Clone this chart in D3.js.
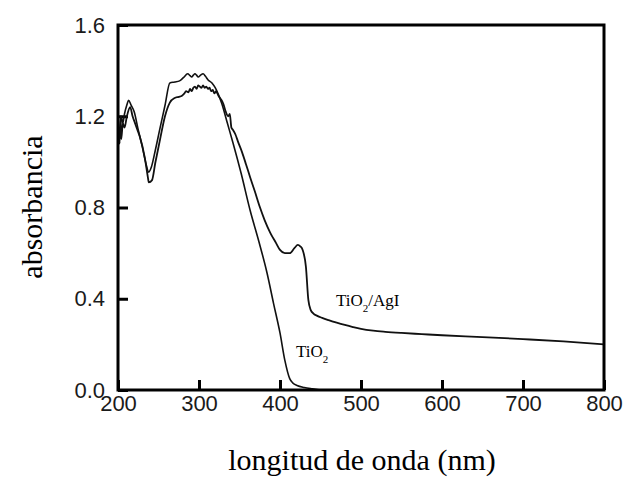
<!DOCTYPE html>
<html>
<head>
<meta charset="utf-8">
<script src="https://cdn.jsdelivr.net/npm/d3@7"></script>
<style>
  html, body { margin: 0; padding: 0; background: #fff; }
  svg { display: block; }
</style>
</head>
<body>
<svg id="chart" width="630" height="488"></svg>
<script>
// UV-Vis absorbance spectra: wavelength (nm) and absorbance for each sample
const tio2Wavelength = [200, 202, 204, 206, 208, 211, 213, 216, 220, 225, 230, 234, 238, 241, 246, 252, 258, 264, 270, 276, 281, 286, 289, 291, 293, 295, 297, 299, 302, 305, 308, 311, 316, 320, 324, 328, 335, 342, 352, 363, 374, 384, 392, 400, 406, 412, 416, 421, 430, 440, 450];
const tio2Absorbance = [1.18, 1.12, 1.20, 1.17, 1.21, 1.25, 1.27, 1.25, 1.22, 1.14, 1.066, 1.00, 0.955, 0.975, 1.05, 1.15, 1.247, 1.346, 1.35, 1.355, 1.37, 1.386, 1.378, 1.372, 1.38, 1.386, 1.38, 1.372, 1.38, 1.386, 1.375, 1.36, 1.346, 1.325, 1.295, 1.257, 1.17, 1.083, 0.95, 0.789, 0.65, 0.513, 0.38, 0.25, 0.13, 0.05, 0.03, 0.02, 0.011, 0.005, 0.0];

const agiWavelength = [200, 201, 202, 203, 204, 206, 208, 211, 215, 218, 221, 224, 227, 233, 237, 238, 242, 246, 252, 258, 264, 270, 275, 279, 282, 284, 287, 289, 291, 293, 295, 297, 299, 301, 303, 305, 307, 309, 311, 313, 315, 317, 319, 321, 324, 327, 330, 333, 336, 338, 340, 342, 345, 348, 353, 358, 363, 369, 375, 381, 388, 395, 400, 406, 412, 418, 422, 425, 428, 432, 435, 438, 441, 446, 452, 460, 470, 480, 490, 500, 515, 530, 550, 575, 600, 650, 700, 750, 800];
const agiAbsorbance = [1.05, 1.15, 1.08, 1.20, 1.10, 1.17, 1.15, 1.20, 1.24, 1.20, 1.17, 1.14, 1.11, 1.02, 0.93, 0.91, 0.92, 0.995, 1.10, 1.20, 1.26, 1.28, 1.285, 1.29, 1.30, 1.31, 1.305, 1.32, 1.31, 1.325, 1.33, 1.32, 1.335, 1.33, 1.325, 1.335, 1.325, 1.33, 1.32, 1.325, 1.31, 1.315, 1.30, 1.31, 1.29, 1.275, 1.255, 1.22, 1.20, 1.21, 1.15, 1.14, 1.12, 1.09, 1.044, 0.99, 0.934, 0.87, 0.803, 0.745, 0.689, 0.645, 0.614, 0.60, 0.60, 0.623, 0.636, 0.63, 0.614, 0.54, 0.395, 0.35, 0.336, 0.325, 0.316, 0.306, 0.295, 0.285, 0.276, 0.268, 0.26, 0.255, 0.25, 0.245, 0.24, 0.232, 0.223, 0.213, 0.20];

const xTicks = [200, 300, 400, 500, 600, 700, 800];
const yTicks = [0.0, 0.4, 0.8, 1.2, 1.6];

const svg = d3.select("#chart");
const plot = { left: 118, right: 604, top: 25, bottom: 390 };

const x = d3.scaleLinear().domain([200, 800]).range([plot.left, plot.right]);
const y = d3.scaleLinear().domain([0, 1.6]).range([plot.bottom, plot.top]);

const tickFont = "'Liberation Sans', Arial, Helvetica, sans-serif";
const serifFont = "'Liberation Serif', 'Times New Roman', Times, serif";

// Bottom axis: inward ticks, labels below
const xAxis = d3.axisBottom(x).tickValues(xTicks).tickSizeInner(-10).tickSizeOuter(0).tickPadding(5);
const gx = svg.append("g").attr("transform", `translate(0,${plot.bottom})`).call(xAxis);
gx.select(".domain").remove();
gx.selectAll(".tick line").attr("stroke", "#000").attr("stroke-width", 3);
gx.selectAll(".tick text")
  .attr("font-family", tickFont).attr("font-size", 22).attr("fill", "#1a1a1a");

// Left axis: inward ticks, labels to the left
const yAxis = d3.axisLeft(y).tickValues(yTicks).tickFormat(d3.format(".1f"))
  .tickSizeInner(-10).tickSizeOuter(0).tickPadding(13);
const gy = svg.append("g").attr("transform", `translate(${plot.left},0)`).call(yAxis);
gy.select(".domain").remove();
gy.selectAll(".tick line").attr("stroke", "#000").attr("stroke-width", 3);
gy.selectAll(".tick text")
  .attr("font-family", tickFont).attr("font-size", 22).attr("fill", "#1a1a1a");

// Spectra
const line = d3.line().x(d => x(d[0])).y(d => y(d[1])).curve(d3.curveMonotoneX);

svg.append("path")
  .datum(d3.zip(tio2Wavelength, tio2Absorbance))
  .attr("d", line).attr("fill", "none").attr("stroke", "#111").attr("stroke-width", 1.6)
  .attr("stroke-linejoin", "round");

svg.append("path")
  .datum(d3.zip(agiWavelength, agiAbsorbance))
  .attr("d", line).attr("fill", "none").attr("stroke", "#111").attr("stroke-width", 1.8)
  .attr("stroke-linejoin", "round");

// Frame around the plot area
svg.append("rect")
  .attr("x", plot.left).attr("y", plot.top)
  .attr("width", plot.right - plot.left).attr("height", plot.bottom - plot.top)
  .attr("fill", "none").attr("stroke", "#000").attr("stroke-width", 3);

// Curve labels with subscripts
function chemLabel(px, py, parts) {
  const t = svg.append("text").attr("x", px).attr("y", py)
    .attr("font-family", serifFont).attr("font-size", 17).attr("fill", "#000");
  parts.forEach(p => {
    if (p.sub) {
      t.append("tspan").attr("font-size", 11).attr("dy", 6).text(p.text);
    } else {
      t.append("tspan").attr("dy", p.after ? -6 : 0).text(p.text);
    }
  });
}
chemLabel(336, 306, [{ text: "TiO" }, { text: "2", sub: true }, { text: "/AgI", after: true }]);
chemLabel(296, 357, [{ text: "TiO" }, { text: "2", sub: true }]);

// Axis titles
svg.append("text")
  .attr("x", 362).attr("y", 470).attr("text-anchor", "middle")
  .attr("font-family", serifFont).attr("font-size", 30).attr("fill", "#000")
  .text("longitud de onda (nm)");

svg.append("text")
  .attr("transform", "translate(42,207) rotate(-90)").attr("text-anchor", "middle")
  .attr("font-family", serifFont).attr("font-size", 30).attr("fill", "#000")
  .text("absorbancia");
</script>
</body>
</html>
